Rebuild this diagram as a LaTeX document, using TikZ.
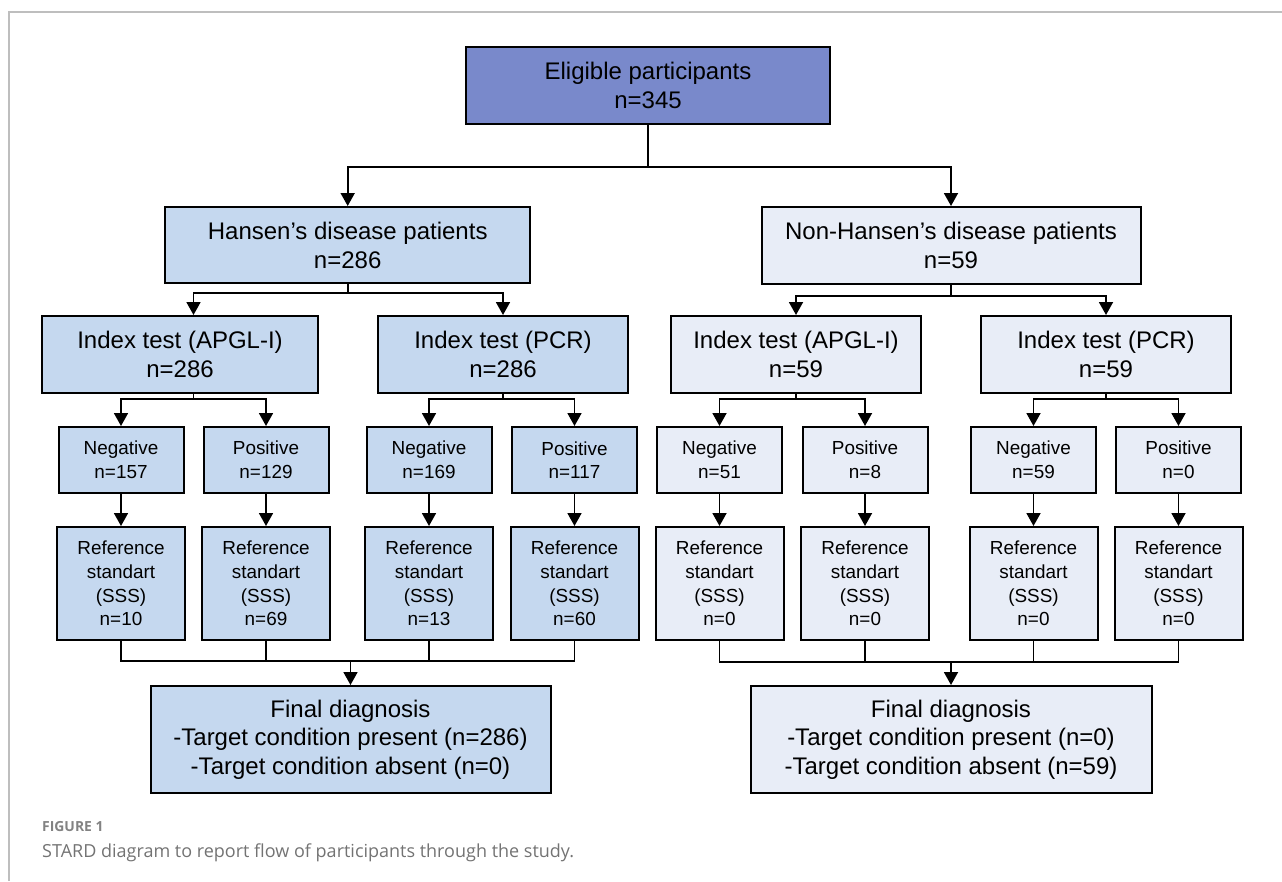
\documentclass[tikz,border=0pt]{standalone}
\usepackage{fontspec}
\setmainfont{Liberation Sans}
\newfontfamily\capfont{Open Sans}
\usetikzlibrary{arrows.meta,calc}
\definecolor{topblue}{RGB}{121,137,203}
\definecolor{lblue}{RGB}{197,216,239}
\definecolor{rblue}{RGB}{232,237,247}
\definecolor{framegray}{RGB}{190,190,190}
\definecolor{capgray}{RGB}{115,115,115}
\definecolor{labgray}{RGB}{130,130,130}
\begin{document}
\begin{tikzpicture}[x=1pt,y=-1pt,
 box/.style={draw=black, line width=2pt, align=center, inner sep=0pt, text=black},
 big/.style={box, font=\fontsize{24}{29}\selectfont},
 small/.style={box, font=\fontsize{18.9}{23.7}\selectfont},
 lb/.style={fill=lblue},
 rb/.style={fill=rblue},
 rowthree/.style={small, minimum width=125, minimum height=66},
 rowfour/.style={small, minimum width=128, minimum height=113},
 idx/.style={big, minimum width=250, minimum height=77},
 ln/.style={line width=1.8pt},
 arr/.style={line width=1.8pt, -{Triangle[width=14pt,length=13pt]}},
]
\useasboundingbox (0,0) rectangle (1282,881);
\draw[framegray, line width=1.5pt] (9,881) -- (9,12) -- (1282,12);

% level 1
\node[big, fill=topblue, minimum width=364, minimum height=77] (top) at (648,85.5) {Eligible participants\\n=345};
% level 2
\node[big, lb, minimum width=364.5, minimum height=76] (hansen) at (347.7,245) {Hansen’s disease patients\\n=286};
\node[big, rb, minimum width=379, minimum height=77] (nonh) at (951,245.5) {Non-Hansen’s disease patients\\n=59};
% level 3
\node[idx, lb, minimum width=276] (idxAL) at (180,354.5) {Index test (APGL-I)\\n=286};
\node[idx, lb] (idxPL) at (503,354.5) {Index test (PCR)\\n=286};
\node[idx, rb] (idxAR) at (796,354.5) {Index test (APGL-I)\\n=59};
\node[idx, rb] (idxPR) at (1106,354.5) {Index test (PCR)\\n=59};
% level 4
\node[rowthree, lb] (n157) at (121,460) {Negative\\n=157};
\node[rowthree, lb] (p129) at (266,460) {Positive\\n=129};
\node[rowthree, lb] (n169) at (429,460) {Negative\\n=169};
\node[rowthree, lb] (p117) at (574.5,460) {Positive\\n=117};
\node[rowthree, rb] (n51) at (719.5,460) {Negative\\n=51};
\node[rowthree, rb] (p8) at (865,460) {Positive\\n=8};
\node[rowthree, rb] (n59) at (1033.5,460) {Negative\\n=59};
\node[rowthree, rb] (p0) at (1178.5,460) {Positive\\n=0};
% level 5
\node[rowfour, lb] (r10) at (121,583.5) {Reference\\standart\\(SSS)\\n=10};
\node[rowfour, lb] (r69) at (266,583.5) {Reference\\standart\\(SSS)\\n=69};
\node[rowfour, lb] (r13) at (429,583.5) {Reference\\standart\\(SSS)\\n=13};
\node[rowfour, lb] (r60) at (574.5,583.5) {Reference\\standart\\(SSS)\\n=60};
\node[rowfour, rb] (ra) at (719.5,583.5) {Reference\\standart\\(SSS)\\n=0};
\node[rowfour, rb] (rb) at (865,583.5) {Reference\\standart\\(SSS)\\n=0};
\node[rowfour, rb] (rc) at (1033.5,583.5) {Reference\\standart\\(SSS)\\n=0};
\node[rowfour, rb] (rd) at (1178.5,583.5) {Reference\\standart\\(SSS)\\n=0};
% final
\node[big, lb, minimum width=400, minimum height=107, font=\fontsize{24}{28.5}\selectfont] (finL) at (350.5,739.5) {Final diagnosis\\-Target condition present (n=286)\\-Target condition absent (n=0)};
\node[big, rb, minimum width=401, minimum height=107, font=\fontsize{24}{28.5}\selectfont] (finR) at (951,739.5) {Final diagnosis\\-Target condition present (n=0)\\-Target condition absent (n=59)};

% caption
\node[anchor=base west, text=labgray, font=\capfont\bfseries\fontsize{13.9}{16}\selectfont, inner sep=0] (figlab) at (42,831) {FIGURE 1};
\node[anchor=base west, text=capgray, font=\capfont\fontsize{18}{22}\selectfont, inner sep=0] (cap) at (42,857) {STARD diagram to report flow of participants through the study.};

% connectors
\coordinate (s0) at (648,167);
\draw[ln] (top.south) -- (s0);
\draw[arr] (s0) -| (hansen.north);
\draw[arr] (s0) -| (nonh.north);

\coordinate (cAL) at (193.5,0);
\coordinate (s1) at (347.7,293);
\draw[ln] (hansen.south) -- (s1);
\draw[arr] (s1) -| (idxAL.north -| cAL);
\draw[arr] (s1) -| (idxPL.north);

\coordinate (s2) at (951,296);
\draw[ln] (nonh.south) -- (s2);
\draw[arr] (s2) -| (idxAR.north);
\draw[arr] (s2) -| (idxPR.north);

\coordinate (t1) at (193.5,399);
\draw[ln] (idxAL.south -| cAL) -- (t1);
\draw[arr] (t1) -| (n157.north);
\draw[arr] (t1) -| (p129.north);
\coordinate (t2) at (503,399);
\draw[ln] (idxPL.south) -- (t2);
\draw[arr] (t2) -| (n169.north);
\draw[arr] (t2) -| (p117.north);
\coordinate (t3) at (796,399);
\draw[ln] (idxAR.south) -- (t3);
\draw[arr] (t3) -| (n51.north);
\draw[arr] (t3) -| (p8.north);
\coordinate (t4) at (1106,399);
\draw[ln] (idxPR.south) -- (t4);
\draw[arr] (t4) -| (n59.north);
\draw[arr] (t4) -| (p0.north);

\foreach \a/\b in {n157/r10,p129/r69,n169/r13,p117/r60,n51/ra,p8/rb,n59/rc,p0/rd}
  \draw[arr] (\a.south) -- (\b.north);

\coordinate (m1) at (350.5,661);
\draw[ln] (r10.south) |- (m1) -| (r60.south);
\draw[ln] (r69.south) -- (r69.south |- m1);
\draw[ln] (r13.south) -- (r13.south |- m1);
\draw[arr] (m1) -- (finL.north);

\coordinate (m2) at (951,662);
\draw[ln] (ra.south) |- (m2) -| (rd.south);
\draw[ln] (rb.south) -- (rb.south |- m2);
\draw[ln] (rc.south) -- (rc.south |- m2);
\draw[arr] (m2) -- (finR.north);
\end{tikzpicture}
\end{document}
